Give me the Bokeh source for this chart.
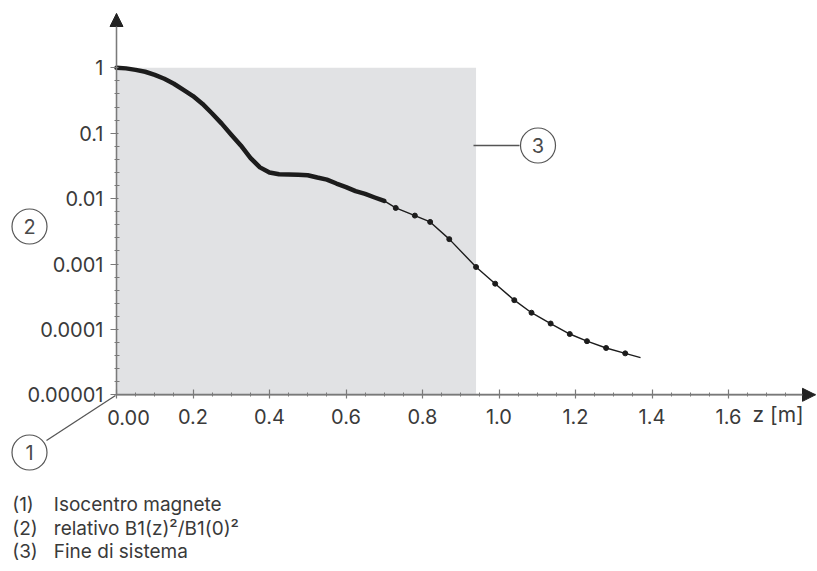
from bokeh.plotting import figure
from bokeh.models import (Range1d, LinearAxis, LogAxis, FixedTicker,
                          CustomJSTickFormatter, Arrow, NormalHead)
from bokeh.core.properties import value
from bokeh.embed import file_html
from bokeh.resources import INLINE

# ---------------- data ----------------
# densely sampled part of the curve (drawn as a thick line)
z_dense = [0.0, 0.025, 0.05, 0.075, 0.1, 0.125, 0.15, 0.175, 0.2, 0.225, 0.25,
           0.275, 0.3, 0.325, 0.35, 0.375, 0.4, 0.425, 0.45, 0.475, 0.5, 0.525,
           0.55, 0.575, 0.6, 0.625, 0.65, 0.675, 0.7]
v_dense = [1.0, 0.98, 0.93, 0.87, 0.78, 0.68, 0.57, 0.46, 0.37, 0.28, 0.20,
           0.14, 0.095, 0.065, 0.042, 0.030, 0.025, 0.0235, 0.0233, 0.0232,
           0.0228, 0.021, 0.0195, 0.017, 0.015, 0.013, 0.0118, 0.0104, 0.0092]
# sparsely sampled, marked points
z_marked = [0.73, 0.78, 0.82, 0.87, 0.94, 0.99, 1.04, 1.085, 1.135, 1.185,
            1.23, 1.28, 1.33]
v_marked = [0.0072, 0.0055, 0.0044, 0.0024, 0.00090, 0.00050, 0.00028,
            0.00018, 0.000123, 0.000085, 0.000066, 0.000052, 0.000043]
z_last = 1.37
v_last = 0.000037
system_end = 0.94          # z of "Fine di sistema"

y_ticks = [1e-5, 1e-4, 1e-3, 1e-2, 1e-1, 1.0]
y_tick_labels = ["0.00001", "0.0001", "0.001", "0.01", "0.1", "1"]
x_ticks = [0.0, 0.2, 0.4, 0.6, 0.8, 1.0, 1.2, 1.4, 1.6]
x_tick_labels = ["0.00", "0.2", "0.4", "0.6", "0.8", "1.0", "1.2", "1.4", "1.6"]
x_axis_label = "z [m]"
callout_numbers = ["1", "2", "3"]
legend_numbers = ["(1)", "(2)", "(3)"]
legend_texts = ["Isocentro magnete", "relativo B1(z)\u00b2/B1(0)\u00b2", "Fine di sistema"]

# ---------------- layout geometry ----------------
W, H = 817, 571
X0, XS = 116.0, 382.5      # pixel of z=0, pixels per metre
Y1, YD = 67.3, 65.4        # pixel of value 1, pixels per decade


def d(px, py):
    """pixel position inside the figure -> data coordinates"""
    return (px - X0) / XS, 10 ** ((Y1 - py) / YD)


FONT = "Inter"
TXT = "#3a3a3a"
AX = "#7a7a7a"

x_lo, y_hi = d(0, 0)
x_hi, y_lo = d(W, H)
x_tip = d(815, 0)[0]
y_tip = d(0, 13)[1]

p = figure(width=W, height=H, title=None,
           x_range=Range1d(x_lo, x_hi), y_range=Range1d(y_lo, y_hi),
           y_axis_type="log", x_axis_location=None, y_axis_location=None,
           toolbar_location=None, output_backend="svg", min_border=0,
           outline_line_color=None, background_fill_color="white")
p.grid.visible = False

# grey system region
p.quad(left=[0.0], right=[system_end], bottom=[y_ticks[0]], top=[y_ticks[-1]],
       fill_color="#e1e2e4", line_color=None)

# axes
x_minor = [round(0.05 * i, 2) for i in range(0, 36) if i % 4 != 0]
y_minor = [10 ** (k + j / 5) for k in range(-5, 0) for j in range(1, 5)]

fmt_code = """
for (let i = 0; i < vals.length; i++) {
  const a = LOG ? Math.log10(tick) : tick;
  const b = LOG ? Math.log10(vals[i]) : vals[i];
  if (Math.abs(a - b) < 1e-6) { return (i == skip) ? "" : labs[i]; }
}
return "";
"""

xaxis = LinearAxis(fixed_location=y_ticks[0], bounds=(0.0, x_tip),
                   ticker=FixedTicker(ticks=x_ticks, minor_ticks=x_minor),
                   formatter=CustomJSTickFormatter(
                       args=dict(vals=x_ticks, labs=x_tick_labels, skip=0),
                       code=fmt_code.replace("LOG", "false")))
yaxis = LogAxis(fixed_location=0.0, bounds=(y_ticks[0], y_tip),
                ticker=FixedTicker(ticks=y_ticks, minor_ticks=y_minor),
                formatter=CustomJSTickFormatter(
                    args=dict(vals=y_ticks, labs=y_tick_labels, skip=-1),
                    code=fmt_code.replace("LOG", "true")))
for ax in (xaxis, yaxis):
    ax.axis_line_color = AX
    ax.axis_line_width = 1.3
    ax.major_tick_line_color = AX
    ax.minor_tick_line_color = AX
    ax.major_tick_line_width = 1.2
    ax.minor_tick_line_width = 1.0
    ax.major_label_text_font = FONT
    ax.major_label_text_font_size = "20px"
    ax.major_label_text_color = TXT
xaxis.major_tick_in, xaxis.major_tick_out = 5, 4
xaxis.minor_tick_in, xaxis.minor_tick_out = 2, 2
xaxis.major_label_standoff = 10
yaxis.major_tick_in, yaxis.major_tick_out = 2, 6
yaxis.minor_tick_in, yaxis.minor_tick_out = 3, 2
yaxis.major_label_standoff = 7
p.add_layout(xaxis, "below")
p.add_layout(yaxis, "left")

# arrow heads
p.add_layout(Arrow(end=NormalHead(size=13, fill_color="#222222", line_color="#222222"),
                   x_start=0.0, y_start=y_ticks[0], x_end=x_tip, y_end=y_ticks[0],
                   line_color=AX, line_width=1.3))
p.add_layout(Arrow(end=NormalHead(size=13, fill_color="#222222", line_color="#222222"),
                   x_start=0.0, y_start=y_ticks[0], x_end=0.0, y_end=y_tip,
                   line_color=AX, line_width=1.3))

# curve
p.line(z_dense, v_dense, line_color="#1c1c1c", line_width=4.5, line_cap="round",
       line_join="round")
p.line([z_dense[-1]] + z_marked + [z_last], [v_dense[-1]] + v_marked + [v_last],
       line_color="#1c1c1c", line_width=1.4)
p.scatter(z_marked, v_marked, size=5, marker="circle", fill_color="#1c1c1c",
          line_color="#1c1c1c")

# callouts
c_pos = [d(29, 452), d(29, 226), d(537.5, 145)]
seg0 = [d(46, 440), d(473, 145)]
seg1 = [d(115, 395), d(519, 145)]
p.segment(x0=[s[0] for s in seg0], y0=[s[1] for s in seg0],
          x1=[s[0] for s in seg1], y1=[s[1] for s in seg1],
          line_color="#555555", line_width=1.3)
p.scatter([c[0] for c in c_pos], [c[1] for c in c_pos], marker="circle", size=35,
          fill_color="white", line_color="#555555", line_width=1.2)
p.text([c[0] for c in c_pos], [c[1] for c in c_pos], text=callout_numbers,
       text_font=value(FONT), text_font_size="20px", text_color="#4a4a4a",
       text_align="center", text_baseline="middle")

# special label at origin and axis title
p.text([d(106.7, 417)[0]], [d(106.7, 417)[1]], text=[x_tick_labels[0]],
       text_font=value(FONT), text_font_size="20px", text_color=TXT,
       text_align="left", text_baseline="middle")
p.text([d(752, 414)[0]], [d(752, 414)[1]], text=[x_axis_label],
       text_font=value(FONT), text_font_size="21px", text_color=TXT,
       text_align="left", text_baseline="middle")

# legend below
rows = [504, 528, 551]
p.text([d(11.7, r)[0] for r in rows], [d(11.7, r)[1] for r in rows], text=legend_numbers,
       text_font=value(FONT), text_font_size="19px", text_color=TXT,
       text_align="left", text_baseline="middle")
p.text([d(53.3, r)[0] for r in rows], [d(53.3, r)[1] for r in rows], text=legend_texts,
       text_font=value(FONT), text_font_size="19px", text_color=TXT,
       text_align="left", text_baseline="middle")

open("out.html", "w").write(file_html(p, INLINE))
